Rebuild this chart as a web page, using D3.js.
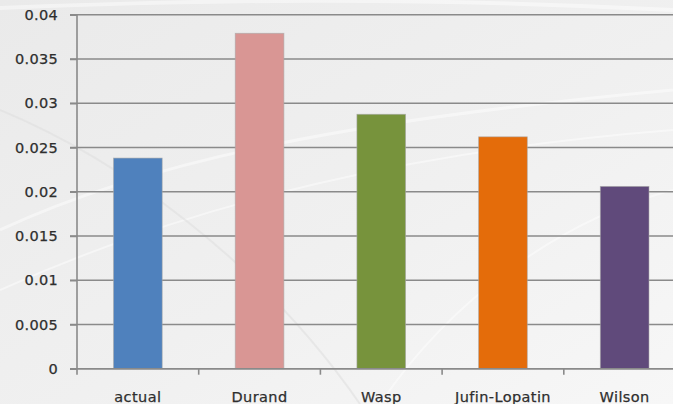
<!DOCTYPE html>
<html><head><meta charset="utf-8">
<script src="https://cdn.jsdelivr.net/npm/d3@7/dist/d3.min.js"></script>
<style>html,body{margin:0;padding:0;overflow:hidden;background:#efefef}</style>
</head><body><svg id="c" width="673" height="404"></svg>
<script>
const categories = ["actual", "Durand", "Wasp", "Jufin-Lopatin", "Wilson"];
const values = [0.0238, 0.0379, 0.02875, 0.0262, 0.0206];
const colors = ["#4F81BD", "#D99694", "#77933C", "#E46C0A", "#604A7B"];
const yTicks = [0, 0.005, 0.01, 0.015, 0.02, 0.025, 0.03, 0.035, 0.04];
const yTickLabels = ["0", "0.005", "0.01", "0.015", "0.02", "0.025", "0.03", "0.035", "0.04"];

const svg = d3.select("#c");
const W = 673, H = 404;
const defs = svg.append("defs");
const bg = defs.append("linearGradient").attr("id","bg").attr("x1","0").attr("y1","0").attr("x2","1").attr("y2","1");
bg.append("stop").attr("offset","0").attr("stop-color","#eaeaea");
bg.append("stop").attr("offset","0.55").attr("stop-color","#f0f0f0");
bg.append("stop").attr("offset","1").attr("stop-color","#f7f7f7");
svg.append("rect").attr("width",W).attr("height",H).attr("fill","url(#bg)");
// decorative swooshes
const sw = svg.append("g").attr("fill","none").attr("stroke","#ffffff").attr("stroke-opacity",0.45);
sw.append("path").attr("d","M0,230 C150,160 350,120 673,90").attr("stroke-width",3);
sw.append("path").attr("d","M0,290 C200,200 420,150 673,130").attr("stroke-width",2);
sw.append("path").attr("d","M0,110 C120,160 260,260 360,404").attr("stroke-width",2).attr("stroke","#e0e0e0").attr("stroke-opacity",0.6);
sw.append("path").attr("d","M380,404 C450,300 560,220 673,190").attr("stroke-width",2);
sw.append("path").attr("d","M0,8 C200,0 400,-4 673,10").attr("stroke-width",4);

const x0 = 77, bandW = 121.7;
const x = d3.scaleBand().domain(categories).range([x0, x0 + bandW*categories.length]).paddingInner(0.6).paddingOuter(0.3);
const y = d3.scaleLinear().domain([0, 0.04]).range([368.7, 14.7]);

// gridlines
const grid = svg.append("g");
grid.selectAll("line").data(yTicks).join("line")
  .attr("x1", 70).attr("x2", W).attr("y1", d=>y(d)).attr("y2", d=>y(d))
  .attr("stroke", "#8a8a8a").attr("stroke-width", 1.6);

// bars
svg.append("g").selectAll("rect").data(categories).join("rect")
  .attr("x", d=>x(d)).attr("width", x.bandwidth())
  .attr("y", (d,i)=>y(values[i])).attr("height", (d,i)=>y(0)-y(values[i]))
  .attr("fill", (d,i)=>colors[i])
  .attr("stroke", "#a8a8a8").attr("stroke-opacity",0.7).attr("stroke-width", 0.8);

const fontCss = "DejaVu Sans, Verdana, sans-serif";
// y axis
const yAxis = d3.axisLeft(y).tickValues(yTicks).tickFormat((d,i)=>yTickLabels[i]).tickSize(7).tickPadding(12);
const ya = svg.append("g").attr("transform", `translate(${x0},0)`).call(yAxis);
ya.select(".domain").attr("stroke","#8a8a8a").attr("stroke-width",1.6).attr("d", `M0,${y(0.04)}V${y(0)+6}`);
ya.selectAll(".tick line").attr("stroke","#8a8a8a").attr("stroke-width",1.6);
ya.selectAll("text").attr("fill","#2e2e2e").attr("stroke","#2e2e2e").attr("stroke-width",0.25)
  .style("font-family",fontCss).style("font-size","14.5px").style("letter-spacing","0.3px");

// x axis
const xa = svg.append("g").attr("transform", `translate(0,${y(0)})`);
xa.append("line").attr("x1", x0).attr("x2", W).attr("y1",0).attr("y2",0).attr("stroke","#8a8a8a").attr("stroke-width",1.6);
const bounds = categories.map((c,i)=> x0 + bandW*(i+1));
xa.selectAll("line.t").data(bounds).join("line").attr("class","t")
  .attr("x1", d=>d).attr("x2", d=>d).attr("y1",0).attr("y2",6).attr("stroke","#8a8a8a").attr("stroke-width",1.6);
xa.selectAll("text").data(categories).join("text")
  .attr("x", d=>x(d)+x.bandwidth()/2).attr("y", 33)
  .attr("text-anchor","middle").attr("fill","#2e2e2e").attr("stroke","#2e2e2e").attr("stroke-width",0.25)
  .style("font-family",fontCss).style("font-size","14.5px").style("letter-spacing","0.4px")
  .text(d=>d);
</script></body></html>
